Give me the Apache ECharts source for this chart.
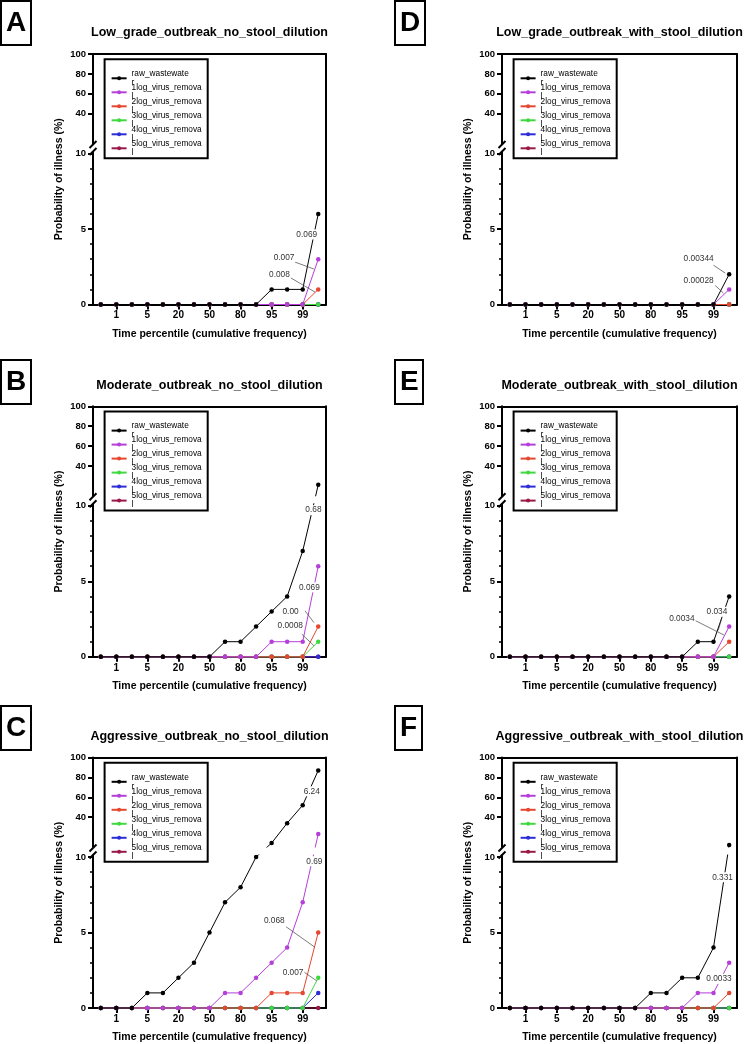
<!DOCTYPE html>
<html><head><meta charset="utf-8">
<script src="https://cdn.jsdelivr.net/npm/echarts@6/dist/echarts.min.js"></script>
<style>html,body{margin:0;padding:0;background:#fff}#c{width:744px;height:1044px}</style>
</head><body><div id="c"></div>
<script>
// ---------- data ----------
const xTickLabels = ['', '1', '', '5', '', '20', '', '50', '', '80', '', '95', '', '99', ''];
const seriesNames = ['raw_wastewater', '1log_virus_removal', '2log_virus_removal', '3log_virus_removal', '4log_virus_removal', '5log_virus_removal'];
const seriesColors = ['#000000', '#b53fd9', '#e5472f', '#3fd93f', '#2d2dd6', '#991848'];
const panelTitles = ['Low_grade_outbreak_no_stool_dilution', 'Moderate_outbreak_no_stool_dilution', 'Aggressive_outbreak_no_stool_dilution',
  'Low_grade_outbreak_with_stool_dilution', 'Moderate_outbreak_with_stool_dilution', 'Aggressive_outbreak_with_stool_dilution'];
const panelLetters = ['A', 'B', 'C', 'D', 'E', 'F'];
const yMajorTicks = [0, 5, 10, 40, 60, 80, 100];
const yMinorTicks = [1, 2, 3, 4, 6, 7, 8, 9];

// A: Low grade, no stool dilution
const A_raw  = [0,0,0,0,0,0,0,0,0,0,0,1,1,1,6];
const A_log1 = [0,0,0,0,0,0,0,0,0,0,0,0,0,0,3];
const A_log2 = [0,0,0,0,0,0,0,0,0,0,0,0,0,0,1];
const A_log3 = [0,0,0,0,0,0,0,0,0,0,0,0,0,0,0];
const A_log4 = [0,0,0,0,0,0,0,0,0,0,0,0,0,0,0];
const A_log5 = [0,0,0,0,0,0,0,0,0,0,0,0,0,0,0];
// B: Moderate, no stool dilution
const B_raw  = [0,0,0,0,0,0,0,0,1,1,2,3,4,7,21];
const B_log1 = [0,0,0,0,0,0,0,0,0,0,0,1,1,1,6];
const B_log2 = [0,0,0,0,0,0,0,0,0,0,0,0,0,0,2];
const B_log3 = [0,0,0,0,0,0,0,0,0,0,0,0,0,0,1];
const B_log4 = [0,0,0,0,0,0,0,0,0,0,0,0,0,0,0];
const B_log5 = [0,0,0,0,0,0,0,0,0,0,0,0,0,0,0];
// C: Aggressive, no stool dilution
const C_raw  = [0,0,0,1,1,2,3,5,7,8,10,14,34,52,87];
const C_log1 = [0,0,0,0,0,0,0,0,1,1,2,3,4,7,23];
const C_log2 = [0,0,0,0,0,0,0,0,0,0,0,1,1,1,5];
const C_log3 = [0,0,0,0,0,0,0,0,0,0,0,0,0,0,2];
const C_log4 = [0,0,0,0,0,0,0,0,0,0,0,0,0,0,1];
const C_log5 = [0,0,0,0,0,0,0,0,0,0,0,0,0,0,0];
// D: Low grade, with stool dilution
const D_raw  = [0,0,0,0,0,0,0,0,0,0,0,0,0,0,2];
const D_log1 = [0,0,0,0,0,0,0,0,0,0,0,0,0,0,1];
const D_log2 = [0,0,0,0,0,0,0,0,0,0,0,0,0,0,0];
const D_log3 = [0,0,0,0,0,0,0,0,0,0,0,0,0,0,0];
const D_log4 = [0,0,0,0,0,0,0,0,0,0,0,0,0,0,0];
const D_log5 = [0,0,0,0,0,0,0,0,0,0,0,0,0,0,0];
// E: Moderate, with stool dilution
const E_raw  = [0,0,0,0,0,0,0,0,0,0,0,0,1,1,4];
const E_log1 = [0,0,0,0,0,0,0,0,0,0,0,0,0,0,2];
const E_log2 = [0,0,0,0,0,0,0,0,0,0,0,0,0,0,1];
const E_log3 = [0,0,0,0,0,0,0,0,0,0,0,0,0,0,0];
const E_log4 = [0,0,0,0,0,0,0,0,0,0,0,0,0,0,0];
const E_log5 = [0,0,0,0,0,0,0,0,0,0,0,0,0,0,0];
// F: Aggressive, with stool dilution
const F_raw  = [0,0,0,0,0,0,0,0,0,1,1,2,2,4,12];
const F_log1 = [0,0,0,0,0,0,0,0,0,0,0,0,1,1,3];
const F_log2 = [0,0,0,0,0,0,0,0,0,0,0,0,0,0,1];
const F_log3 = [0,0,0,0,0,0,0,0,0,0,0,0,0,0,0];
const F_log4 = [0,0,0,0,0,0,0,0,0,0,0,0,0,0,0];
const F_log5 = [0,0,0,0,0,0,0,0,0,0,0,0,0,0,0];

// annotations: label at [category position, value]; optional leader line from/to
const A_notes = [
  {text: '0.069', at: [13.26, 4.64]},
  {text: '0.007', at: [11.8, 3.13], from: [12.5, 2.81], to: [13.72, 2.35]},
  {text: '0.008', at: [11.5, 2.0], from: [12.2, 1.78], to: [13.8, 0.82]}
];
const B_notes = [
  {text: '0.68', at: [13.69, 9.71]},
  {text: '0.069', at: [13.43, 4.6]},
  {text: '0.00', at: [12.22, 2.98], from: [13.15, 3.04], to: [13.73, 2.26]},
  {text: '0.0008', at: [12.2, 2.03], from: [12.94, 1.5], to: [13.73, 0.73]}
];
const C_notes = [
  {text: '6.24', at: [13.58, 66]},
  {text: '0.69', at: [13.75, 9.72]},
  {text: '0.068', at: [11.17, 5.78], from: [11.93, 5.38], to: [13.79, 4.02]},
  {text: '0.007', at: [12.38, 2.37], from: [13.04, 2.41], to: [13.9, 1.8]}
];
const D_notes = [
  {text: '0.00344', at: [12.05, 3.04], from: [13.0, 2.6], to: [13.75, 2.08]},
  {text: '0.00028', at: [12.05, 1.6], from: [13.11, 1.26], to: [13.64, 0.75]}
];
const E_notes = [
  {text: '0.034', at: [13.22, 2.98], from: [13.52, 2.52], to: [13.3, 1.75]},
  {text: '0.0034', at: [10.98, 2.49], from: [11.76, 2.44], to: [13.67, 1.44]}
];
const F_notes = [
  {text: '0.331', at: [13.58, 8.66]},
  {text: '0.0033', at: [13.35, 1.93]}
];

const panels = [
  [A_raw, A_log1, A_log2, A_log3, A_log4, A_log5],
  [B_raw, B_log1, B_log2, B_log3, B_log4, B_log5],
  [C_raw, C_log1, C_log2, C_log3, C_log4, C_log5],
  [D_raw, D_log1, D_log2, D_log3, D_log4, D_log5],
  [E_raw, E_log1, E_log2, E_log3, E_log4, E_log5],
  [F_raw, F_log1, F_log2, F_log3, F_log4, F_log5]
];
const panelNotes = [A_notes, B_notes, C_notes, D_notes, E_notes, F_notes];

// ---------- layout ----------
const colLeft = [93, 502], colWidth = [233, 235];
const rowTop = [54, 406.3, 757.5];
const upperH = 89.5, gapH = 10, lowerH = 151;   // broken y axis: 10-100 on top, 0-10 below
const letterX = [1, 395], letterY = [1, 360, 706];
const FONT = '"Liberation Sans", Arial, Helvetica, sans-serif';

// broken-axis scale: 0-10 linear (lower part), gap, 10-100 compressed (upper part)
const BREAK = 10;
const gapU = gapH / (lowerH / BREAK);
const upK = (upperH / 90) / (lowerH / BREAK);
const brokenScale = v => v <= BREAK ? v : BREAK + gapU + (v - BREAK) * upK;
const brokenInverse = u => u <= BREAK + 1e-9 ? u : BREAK + (u - BREAK - gapU) / upK;
const yMax = brokenScale(100);

const chart = echarts.init(document.getElementById('c'), null, {renderer: 'canvas'});
const option = {animation: false, backgroundColor: '#fff', title: [], grid: [], xAxis: [], yAxis: [], legend: [], series: []};
const blackLine = {show: true, onZero: false, lineStyle: {color: '#000', width: 2}};
const showLabel = (i, v) => v !== '';

panels.forEach((pd, p) => {
  const col = Math.floor(p / 3), row = p % 3;
  const L = colLeft[col], W = colWidth[col], T = rowTop[row];
  option.title.push({
    text: panelLetters[p], left: letterX[col], top: letterY[row], padding: [7, 5, 7, 5],
    borderColor: '#000', borderWidth: 2,
    textStyle: {fontSize: 28, fontWeight: 'bold', fontFamily: FONT, color: '#000', lineHeight: 30}
  });
  option.grid.push({left: L, top: T, width: W, height: upperH + gapH + lowerH, outerBoundsMode: 'none'});
  // x axes: bottom categories, top border carrying the title
  option.xAxis.push({
    type: 'category', gridIndex: p, data: xTickLabels, boundaryGap: true,
    axisLine: blackLine,
    axisTick: {show: true, alignWithLabel: true, interval: showLabel, length: 5, lineStyle: {color: '#000', width: 2}},
    axisLabel: {interval: showLabel, margin: 6, fontSize: 10, fontWeight: 'bold', fontFamily: FONT, color: '#000'},
    splitLine: {show: false},
    name: 'Time percentile (cumulative frequency)', nameLocation: 'middle', nameGap: 24,
    nameTextStyle: {fontSize: 10.5, fontWeight: 'bold', fontFamily: FONT, color: '#000'}
  });
  option.xAxis.push({
    type: 'value', gridIndex: p, position: 'top', min: 0, max: 1,
    axisLine: blackLine, axisTick: {show: false}, axisLabel: {show: false}, splitLine: {show: false},
    name: panelTitles[p], nameLocation: 'middle', nameGap: 14.5,
    nameTextStyle: {fontSize: 12.5, fontWeight: 'bold', fontFamily: FONT, color: '#000'}
  });
  // y axes: main (broken), minor ticks, right border
  option.yAxis.push({
    type: 'value', gridIndex: p, min: 0, max: yMax,
    axisLine: blackLine,
    axisTick: {show: true, customValues: yMajorTicks.map(brokenScale), length: 5, lineStyle: {color: '#000', width: 2}},
    axisLabel: {customValues: yMajorTicks.map(brokenScale), formatter: u => String(Math.round(brokenInverse(u))),
      margin: 7, fontSize: 9.5, fontWeight: 'bold', fontFamily: FONT, color: '#000'},
    splitLine: {show: false},
    name: 'Probability of illness (%)', nameLocation: 'middle', nameGap: 28.5,
    nameTextStyle: {fontSize: 10.5, fontWeight: 'bold', fontFamily: FONT, color: '#000'}
  });
  option.yAxis.push({
    type: 'value', gridIndex: p, position: 'left', min: 0, max: yMax,
    axisLine: {show: false},
    axisTick: {show: true, customValues: yMinorTicks.map(brokenScale), length: 3, lineStyle: {color: '#000', width: 1.5}},
    axisLabel: {show: false}, splitLine: {show: false}
  });
  option.yAxis.push({
    type: 'value', gridIndex: p, position: 'right', min: 0, max: 1,
    axisLine: blackLine, axisTick: {show: false}, axisLabel: {show: false}, splitLine: {show: false}
  });
  // legend
  option.legend.push({
    data: seriesNames, orient: 'vertical', left: L + 11.6, top: T + 5.3, selectedMode: false,
    padding: [10, 6, 1, 6], itemGap: -4, itemWidth: 15, itemHeight: 5,
    borderColor: '#000', borderWidth: 2, backgroundColor: '#fff', z: 20,
    formatter: n => n.slice(0, -1) + '\n' + n.slice(-1),
    textStyle: {fontSize: 8.3, lineHeight: 9, fontFamily: FONT, color: '#000'}
  });
  // series
  pd.forEach((vals, s) => {
    option.series.push({
      type: 'line', name: seriesNames[s], data: vals.map(brokenScale), symbol: 'circle', symbolSize: 4.5,
      xAxisIndex: 2 * p, yAxisIndex: 3 * p, clip: false,
      itemStyle: {color: seriesColors[s]}, lineStyle: {color: seriesColors[s], width: 1},
      z: 10 - s, silent: true, emphasis: {disabled: true}, showAllSymbol: true
    });
  });
});
chart.setOption(option);

// ---------- axis-break gap, break marks and annotations (positioned through the axes) ----------
function toPx(p, x, y) {
  const i0 = Math.floor(x), f = x - i0;
  const a = chart.convertToPixel({xAxisIndex: 2 * p}, i0);
  const b = chart.convertToPixel({xAxisIndex: 2 * p}, i0 + 1);
  return [a + (b - a) * f, chart.convertToPixel({yAxisIndex: 3 * p}, brokenScale(y))];
}
const graphics = [];
panels.forEach((pd, p) => {
  const c0 = chart.convertToPixel({xAxisIndex: 2 * p}, 0), c1 = chart.convertToPixel({xAxisIndex: 2 * p}, 1);
  const band = c1 - c0;
  const xL = c0 - band / 2, xR = xL + band * xTickLabels.length;
  const yGapBottom = chart.convertToPixel({yAxisIndex: 3 * p}, BREAK);
  const yGapTop = chart.convertToPixel({yAxisIndex: 3 * p}, BREAK + gapU);
  graphics.push({type: 'rect', z: 15, silent: true,
    shape: {x: xL - 1.5, y: yGapTop + 0.5, width: xR - xL, height: yGapBottom - yGapTop - 3},
    style: {fill: '#fff'}});
  [yGapTop + 1, yGapBottom - 2].forEach(y => {
    graphics.push({type: 'line', z: 16, silent: true, shape: {x1: xL - 3.5, y1: y + 3.5, x2: xL + 3.5, y2: y - 3.5},
      style: {stroke: '#000', lineWidth: 2}});
  });
  panelNotes[p].forEach(n => {
    if (n.from) {
      const a = toPx(p, n.from[0], n.from[1]), b = toPx(p, n.to[0], n.to[1]);
      graphics.push({type: 'line', z: 40, silent: true, shape: {x1: a[0], y1: a[1], x2: b[0], y2: b[1]},
        style: {stroke: '#444', lineWidth: 0.7}});
    }
    const c = toPx(p, n.at[0], n.at[1]);
    graphics.push({type: 'text', z: 50, silent: true, x: c[0], y: c[1],
      style: {text: n.text, fill: '#333', font: '8.3px ' + FONT, align: 'center', verticalAlign: 'middle',
        backgroundColor: '#fff', padding: [1, 1]}});
  });
});
chart.setOption({graphic: graphics});
</script>
</body></html>
